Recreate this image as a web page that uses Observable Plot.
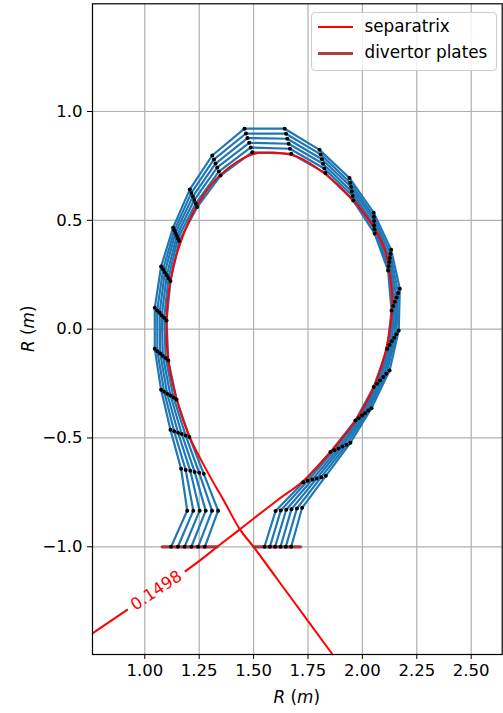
<!DOCTYPE html>
<html><head><meta charset="utf-8">
<script src="https://cdn.jsdelivr.net/npm/d3@7"></script>
<script src="https://cdn.jsdelivr.net/npm/@observablehq/plot@0.6"></script>
<style>
body{margin:0;background:#fff;}
#wrap{position:relative;width:503px;height:713px;font-family:"DejaVu Sans",sans-serif;}
#wrap svg{position:absolute;left:0;top:0;}
.legend{position:absolute;left:310.5px;top:11.5px;width:186px;height:59px;border:1px solid #cccccc;border-radius:4px;background:rgba(255,255,255,0.8);box-sizing:border-box;font-size:16.8px;color:#000;}
.legend .sw{position:absolute;left:6px;width:35px;height:0;}
.legend .lb{position:absolute;left:53px;line-height:19px;white-space:nowrap;}
</style></head>
<body>
<div id="wrap"></div>
<script>
// axis ticks
const xTicks = [1.00, 1.25, 1.50, 1.75, 2.00, 2.25, 2.50];
const yTicks = [-1.0, -0.5, 0.0, 0.5, 1.0];

// separatrix contour (psi = 0.1498), outer part of the lower-left leg (before the label gap)
const sepLegR = [0.761, 0.919];
const sepLegZ = [-1.397, -1.290];
// separatrix main path: leg -> X-point -> outboard -> top -> inboard -> X-point -> leg
const sepR = [1.187, 1.260, 1.333, 1.437, 1.608, 1.731, 1.853, 1.968, 2.052, 2.107, 2.133, 2.137, 2.125, 2.105, 2.058, 1.958, 1.830, 1.700, 1.600, 1.494, 1.348, 1.241, 1.165, 1.118, 1.100, 1.108, 1.146, 1.205, 1.293, 1.363, 1.437, 1.501, 1.670, 1.863];
const sepZ = [-1.112, -1.058, -1.000, -0.920, -0.787, -0.695, -0.565, -0.420, -0.266, -0.100, 0.050, 0.150, 0.260, 0.360, 0.460, 0.591, 0.712, 0.793, 0.811, 0.803, 0.710, 0.570, 0.400, 0.224, 0.040, -0.144, -0.320, -0.493, -0.665, -0.787, -0.920, -1.002, -1.232, -1.495];
const contourLabel = "0.1498";
const contourLabelR = 1.053;
const contourLabelZ = -1.201;

// divertor plates
const plateNames = ["inner", "outer"];
const plateR = [[1.080, 1.333], [1.501, 1.716]];
const plateZ = [[-1.0, -1.0], [-1.0, -1.0]];

// mesh nodes: one entry per poloidal column (left plate -> top -> right plate),
// 6 radial nodes each (from separatrix side outward)
const meshR = [
  [1.276, 1.245, 1.214, 1.183, 1.152, 1.121],
  [1.337, 1.309, 1.280, 1.252, 1.223, 1.195],
  [1.271, 1.250, 1.229, 1.209, 1.188, 1.167],
  [1.205, 1.188, 1.170, 1.153, 1.135, 1.118],
  [1.146, 1.132, 1.118, 1.103, 1.089, 1.075],
  [1.108, 1.096, 1.083, 1.071, 1.058, 1.046],
  [1.100, 1.089, 1.078, 1.068, 1.057, 1.046],
  [1.118, 1.109, 1.101, 1.092, 1.084, 1.075],
  [1.158, 1.152, 1.147, 1.141, 1.136, 1.130],
  [1.241, 1.234, 1.227, 1.221, 1.214, 1.207],
  [1.348, 1.340, 1.333, 1.325, 1.318, 1.310],
  [1.494, 1.487, 1.480, 1.472, 1.465, 1.458],
  [1.673, 1.667, 1.661, 1.655, 1.649, 1.643],
  [1.830, 1.825, 1.819, 1.814, 1.808, 1.803],
  [1.958, 1.955, 1.951, 1.948, 1.944, 1.941],
  [2.056, 2.055, 2.054, 2.054, 2.053, 2.052],
  [2.118, 2.121, 2.124, 2.126, 2.129, 2.132],
  [2.134, 2.142, 2.149, 2.157, 2.164, 2.172],
  [2.114, 2.125, 2.135, 2.146, 2.156, 2.167],
  [2.052, 2.067, 2.081, 2.096, 2.110, 2.125],
  [1.968, 1.983, 1.998, 2.012, 2.027, 2.042],
  [1.853, 1.871, 1.890, 1.908, 1.927, 1.945],
  [1.728, 1.749, 1.770, 1.790, 1.811, 1.832],
  [1.601, 1.625, 1.650, 1.674, 1.699, 1.723],
  [1.550, 1.575, 1.599, 1.624, 1.648, 1.673]
];
const meshZ = [
  [-1.000, -1.000, -1.000, -1.000, -1.000, -1.000],
  [-0.834, -0.834, -0.834, -0.834, -0.834, -0.834],
  [-0.665, -0.660, -0.656, -0.651, -0.647, -0.642],
  [-0.496, -0.489, -0.482, -0.476, -0.469, -0.462],
  [-0.323, -0.314, -0.305, -0.297, -0.288, -0.279],
  [-0.144, -0.133, -0.122, -0.112, -0.101, -0.090],
  [0.040, 0.052, 0.063, 0.075, 0.086, 0.098],
  [0.221, 0.234, 0.248, 0.261, 0.275, 0.288],
  [0.405, 0.417, 0.429, 0.442, 0.454, 0.466],
  [0.561, 0.577, 0.593, 0.610, 0.626, 0.642],
  [0.706, 0.724, 0.743, 0.761, 0.780, 0.798],
  [0.813, 0.835, 0.856, 0.878, 0.899, 0.921],
  [0.806, 0.829, 0.852, 0.875, 0.898, 0.921],
  [0.717, 0.738, 0.760, 0.781, 0.803, 0.824],
  [0.591, 0.612, 0.632, 0.653, 0.673, 0.694],
  [0.440, 0.459, 0.478, 0.497, 0.516, 0.535],
  [0.270, 0.289, 0.308, 0.327, 0.346, 0.365],
  [0.086, 0.106, 0.126, 0.146, 0.166, 0.186],
  [-0.090, -0.073, -0.056, -0.040, -0.023, -0.006],
  [-0.266, -0.251, -0.236, -0.220, -0.205, -0.190],
  [-0.420, -0.409, -0.397, -0.386, -0.374, -0.363],
  [-0.565, -0.556, -0.548, -0.539, -0.531, -0.522],
  [-0.703, -0.697, -0.691, -0.686, -0.680, -0.674],
  [-0.836, -0.833, -0.830, -0.827, -0.824, -0.821],
  [-1.000, -1.000, -1.000, -1.000, -1.000, -1.000]
];

// ---- build tables ----
const sepRows = [
  ...sepLegR.map((r, i) => ({R: r, Z: sepLegZ[i], part: "leg"})),
  ...sepR.map((r, i) => ({R: r, Z: sepZ[i], part: "main"}))
];
const plateRows = [];
plateNames.forEach((n, p) => plateR[p].forEach((r, i) => plateRows.push({R: r, Z: plateZ[p][i], plate: n})));
const meshRows = [];
meshR.forEach((col, c) => col.forEach((r, k) => meshRows.push({R: r, Z: meshZ[c][k], surf: k, col: c})));
meshRows.sort((a, b) => a.surf - b.surf || a.col - b.col);

const FONT = 16.5;
const svg = Plot.plot({
  width: 503,
  height: 713,
  marginLeft: 92,
  marginRight: 1.3,
  marginTop: 3.3,
  marginBottom: 59,
  style: {fontFamily: "DejaVu Sans, sans-serif", fontSize: FONT + "px", background: "white", overflow: "visible"},
  x: {domain: [0.7597, 2.6425], label: null},
  y: {domain: [-1.495, 1.495], label: null},
  marks: [
    Plot.gridX(xTicks, {stroke: "#b0b0b0", strokeOpacity: 1, strokeWidth: 1.2}),
    Plot.gridY(yTicks, {stroke: "#b0b0b0", strokeOpacity: 1, strokeWidth: 1.2}),
    Plot.line(meshRows, {x: "R", y: "Z", z: "surf", stroke: "#1f77b4", strokeWidth: 2.2}),
    Plot.line(sepRows, {x: "R", y: "Z", z: "part", stroke: "red", strokeWidth: 2, curve: "catmull-rom"}),
    Plot.text([{R: contourLabelR, Z: contourLabelZ, t: contourLabel}], {x: "R", y: "Z", text: "t", fill: "red", fontSize: FONT, rotate: -33.6}),
    Plot.line(plateRows, {x: "R", y: "Z", z: "plate", stroke: "#a52a2a", strokeOpacity: 0.9, strokeWidth: 3.2}),
    Plot.dot(meshRows, {x: "R", y: "Z", r: 2, fill: "black", stroke: "none"}),
    Plot.axisX(xTicks, {tickFormat: d3.format(".2f"), tickSize: 5, tickPadding: 5, fontSize: FONT, label: null, stroke: "black"}),
    Plot.axisY(yTicks, {tickFormat: d3.format(".1f"), tickSize: 5, tickPadding: 5, fontSize: FONT, label: null, stroke: "black"}),
    Plot.frame({stroke: "black", strokeWidth: 1.2})
  ]
});

// mathtext-style axis labels: $R\ (m)$
const s = d3.select(svg);
function mathLabel(g) {
  g.append("tspan").attr("font-style", "italic").text("R");
  g.append("tspan").text("\u00a0(");
  g.append("tspan").attr("font-style", "italic").text("m");
  g.append("tspan").text(")");
}
const xl = s.append("text").attr("x", 296.8).attr("y", 703).attr("text-anchor", "middle")
  .attr("font-size", 16.8).attr("font-family", "DejaVu Sans, sans-serif").attr("fill", "black");
mathLabel(xl);
const yl = s.append("text").attr("transform", "translate(34,328.7) rotate(-90)").attr("text-anchor", "middle")
  .attr("font-size", 16.8).attr("font-family", "DejaVu Sans, sans-serif").attr("fill", "black");
mathLabel(yl);

const wrap = document.getElementById("wrap");
wrap.appendChild(svg);

// legend (upper right, matplotlib-like)
const legendItems = [
  {label: "separatrix", color: "red", width: 2, opacity: 1},
  {label: "divertor plates", color: "#a52a2a", width: 3.2, opacity: 0.9}
];
const leg = document.createElement("div");
leg.className = "legend";
legendItems.forEach((it, i) => {
  const cy = 14.5 + i * 26.5;
  const sw = document.createElement("div");
  sw.className = "sw";
  sw.style.top = (cy - it.width / 2) + "px";
  sw.style.borderTop = it.width + "px solid " + it.color;
  sw.style.opacity = it.opacity;
  leg.appendChild(sw);
  const lb = document.createElement("div");
  lb.className = "lb";
  lb.style.top = (cy - 10.5) + "px";
  lb.textContent = it.label;
  leg.appendChild(lb);
});
wrap.appendChild(leg);
</script>
</body></html>
